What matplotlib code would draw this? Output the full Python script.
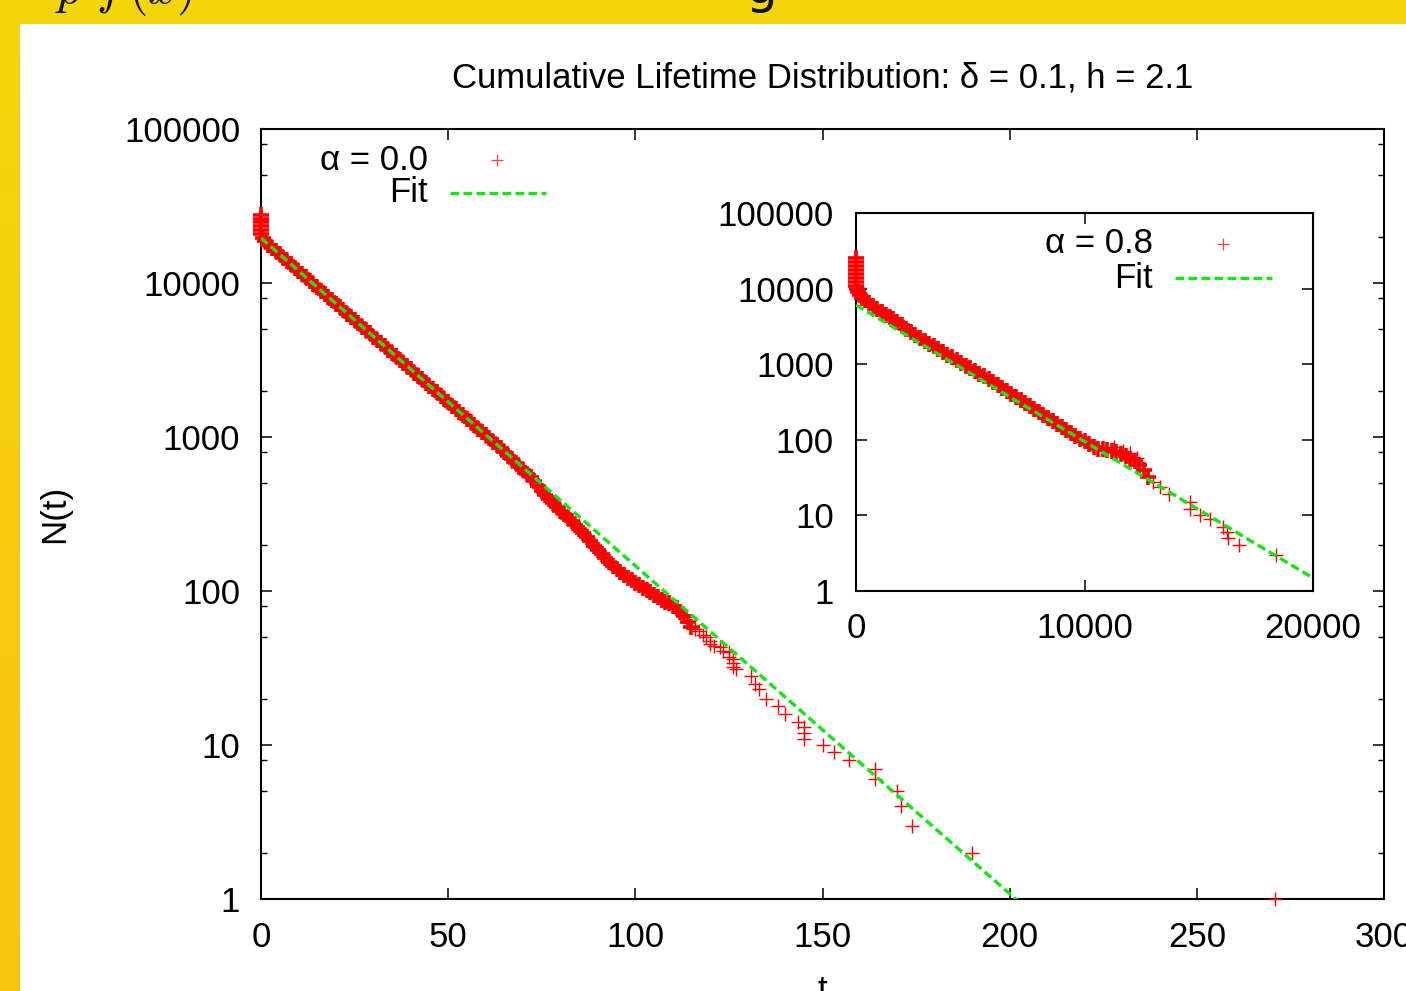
import numpy as np
import matplotlib
matplotlib.use("Agg")
import matplotlib.pyplot as plt
from matplotlib.patches import Rectangle
from matplotlib.lines import Line2D
from matplotlib.ticker import FixedLocator, LogLocator, NullFormatter

plt.rcParams['font.family'] = ['Liberation Sans', 'DejaVu Sans']

# ---- alpha = 0.0 : cumulative lifetime counts ----
head0_t = [0, 0, 0, 0, 0, 0, 0.5]
head0_n = [27650, 26200, 24800, 23400, 22100, 20800, 19700]

band0_t = np.arange(1, 116)
band0_n = [18650, 17760, 16900, 16090, 15320, 14590, 13890, 13220, 12590, 11990,
           11410, 10870, 10340, 9850, 9380, 8930, 8500, 8090, 7700, 7335,
           6985, 6650, 6330, 6030, 5740, 5465, 5200, 4952, 4715, 4490,
           4274, 4070, 3874, 3688, 3512, 3343, 3183, 3030, 2885, 2747,
           2615, 2490, 2370, 2257, 2149, 2046, 1948, 1854, 1766, 1681,
           1600, 1524, 1451, 1381, 1315, 1252, 1192, 1135, 1080, 1028,
           979, 932, 888, 845, 800, 758, 718, 680, 643, 608,
           575, 550, 515, 480, 448, 420, 396, 373, 352, 333,
           316, 299, 283, 267, 252, 237, 223, 210, 197, 185,
           174, 163, 154, 146, 139, 132, 127, 122, 118, 113,
           109, 105, 101, 98, 94, 91, 88, 85, 83, 80,
           77, 73, 69, 63, 58]

tail0_t = [116, 117, 118, 119, 120, 120, 121, 122.5, 123.5, 125, 125, 126, 126, 126,
           127, 131, 132, 133, 135, 138, 140, 143.5, 145, 145, 145, 150, 153, 157,
           164, 164, 170, 171, 174, 190, 271]
tail0_n = [57, 55, 52, 50, 47, 45, 44, 43, 41, 40, 37, 36, 34, 32,
           31, 28, 25, 23, 20, 18, 16, 14, 13, 12, 11, 10, 9, 8,
           7, 6, 5, 4, 3, 2, 1]

# ---- alpha = 0.8 : cumulative lifetime counts ----
head8_t = [0, 0, 0, 0, 0, 0, 0, 0, 44, 90, 175, 280, 394, 560, 744, 940, 1138, 1310, 1488]
head8_n = [25400, 22500, 19900, 17600, 15600, 13800, 12200, 10900, 9880, 9000,
           8230, 7600, 7070, 6450, 5890, 5370, 4900, 4540, 4210]

band8_t = np.arange(1600, 12801, 200)
band8_n = [3981, 3608, 3269, 2964, 2686, 2435, 2206, 2030, 1868, 1719,
           1582, 1455, 1339, 1232, 1134, 1043, 960, 884, 813, 748,
           689, 634, 583, 532, 485, 442, 403, 368, 335, 306,
           279, 254, 232, 211, 193, 176, 160, 146, 133, 122,
           112, 103, 95, 87, 80, 76, 75, 73, 71, 68,
           64, 61, 56, 52, 47, 40, 32]

tail8_t = [11300, 11700, 12000, 12300, 13000, 13300, 13700, 14600, 14600, 15050,
           15500, 16050, 16250, 16300, 16750, 18400]
tail8_n = [80, 72, 66, 58, 28, 24, 19, 15, 12, 10,
           9, 7, 6, 5, 4, 3]

# exponential fits N(t) = A exp(-t / tau)
fit0_amp, fit0_tau = 19600, 20.4
fit8_amp, fit8_tau = 6070, 2405

ytick_vals = [1, 10, 100, 1000, 10000, 100000]
ytick_labels = ['1', '10', '100', '1000', '10000', '100000']
xtick_main = [0, 50, 100, 150, 200, 250, 300]
xtick_inset = [0, 10000, 20000]

RED = '#ff0000'
GREEN = '#11e811'
FS = 25
MS = 9.4

fig = plt.figure(figsize=(14.06, 9.91), dpi=100)

# slide background: yellow frame with white panel
bg = fig.add_axes([0, 0, 1, 1], zorder=-5)
grad = np.linspace(0, 1, 256).reshape(-1, 1)
top_c = np.array([243, 214, 11]) / 255
bot_c = np.array([249, 196, 16]) / 255
img = top_c[None, None, :] * (1 - grad[:, :, None]) + bot_c[None, None, :] * grad[:, :, None]
bg.imshow(img, extent=[0, 1, 0, 1], aspect='auto', origin='upper')
bg.add_patch(Rectangle((20 / 1406, 0), 1, 1 - 24 / 991, color='white', lw=0))
bg.set_xlim(0, 1)
bg.set_ylim(0, 1)
bg.axis('off')

# slide heading, mostly cut off at the top
fig.text(55 / 1406, 1 - 3 / 991, r'$p\ f\,(x)$', fontsize=36, va='baseline',
         math_fontfamily='cm', color='#111111')
fig.text(745 / 1406, 1 - 3 / 991, 'g', fontsize=36, va='baseline',
         family='DejaVu Sans', color='#111111')


def style_axes(ax, xticks, ypad, xpad):
    ax.set_yscale('log')
    ax.set_ylim(1, 1e5)
    ax.yaxis.set_major_locator(FixedLocator(ytick_vals))
    ax.set_yticklabels(ytick_labels)
    ax.yaxis.set_minor_locator(LogLocator(base=10, subs=(2, 5, 8)))
    ax.yaxis.set_minor_formatter(NullFormatter())
    ax.set_xticks(xticks)
    ax.set_xticklabels([str(v) for v in xticks])
    ax.tick_params(which='both', direction='in', top=True, right=True,
                   labelsize=FS, colors='black')
    ax.tick_params(which='major', length=8, width=1.1)
    ax.tick_params(which='minor', length=4.5, width=1.0)
    ax.tick_params(axis='y', pad=ypad)
    ax.tick_params(axis='x', pad=xpad)
    for s in ax.spines.values():
        s.set_linewidth(1.5)


def draw_key(ax, x_text, y_rows, x_mark, x_line, label):
    ax.text(x_text, y_rows[0], label, transform=ax.transAxes, ha='right',
            va='center', fontsize=FS)
    ax.text(x_text, y_rows[1], 'Fit', transform=ax.transAxes, ha='right',
            va='center', fontsize=FS)
    ax.add_line(Line2D([x_mark], [y_rows[0]], transform=ax.transAxes, ls='none',
                       marker='+', ms=8.5, mew=0.9, color=RED, alpha=0.75))
    ax.add_line(Line2D(x_line, [y_rows[1]] * 2, transform=ax.transAxes,
                       color=GREEN, lw=2.4, dashes=(2.6, 1.3)))


def draw_points(ax, t_parts, n_parts):
    # dense part drawn with heavier strokes so overlapping crosses merge
    ax.plot(np.concatenate(t_parts[:2]), np.concatenate(n_parts[:2]), ls='none',
            marker='+', ms=12, mew=2.6, color=RED, clip_on=False, zorder=3)
    ax.plot(t_parts[2], n_parts[2], ls='none', marker='+', ms=MS, mew=1.0,
            color=RED, clip_on=False, zorder=3)


# ---- main panel ----
ax = fig.add_axes([261 / 1406, 92 / 991, 1123 / 1406, 770 / 991])
style_axes(ax, xtick_main, 15, 16)
ax.set_xlim(0, 300)

draw_points(ax, [head0_t, band0_t, tail0_t], [head0_n, band0_n, tail0_n])
tf0 = np.array([0, 300])
ax.plot(tf0, fit0_amp * np.exp(-tf0 / fit0_tau), color=GREEN, lw=2.4,
        dashes=(2.6, 1.3), zorder=4)

ax.set_title('Cumulative Lifetime Distribution: δ = 0.1, h = 2.1',
             fontsize=FS, pad=30)
ax.set_xlabel('t', fontsize=FS)
ax.set_ylabel('N(t)', fontsize=FS)
ax.xaxis.set_label_coords(0.5, -0.097)
ax.yaxis.set_label_coords(-0.169, 0.5)

draw_key(ax, 0.1487, (0.9597, 0.9169), 0.2102, (0.1683, 0.2538), 'α = 0.0')

# ---- inset panel ----
axi = fig.add_axes([856 / 1406, 400 / 991, 457 / 1406, 378 / 991])
style_axes(axi, xtick_inset, 16, 15)
axi.set_xlim(0, 20000)
axi.set_facecolor('white')

draw_points(axi, [head8_t, band8_t, tail8_t], [head8_n, band8_n, tail8_n])
tf8 = np.array([0, 20000])
axi.plot(tf8, fit8_amp * np.exp(-tf8 / fit8_tau), color=GREEN, lw=2.4,
         dashes=(2.6, 1.3), zorder=4)

draw_key(axi, 0.6499, (0.918, 0.828), 0.803, (0.698, 0.910), 'α = 0.8')

fig.savefig('out.png', dpi=100)
